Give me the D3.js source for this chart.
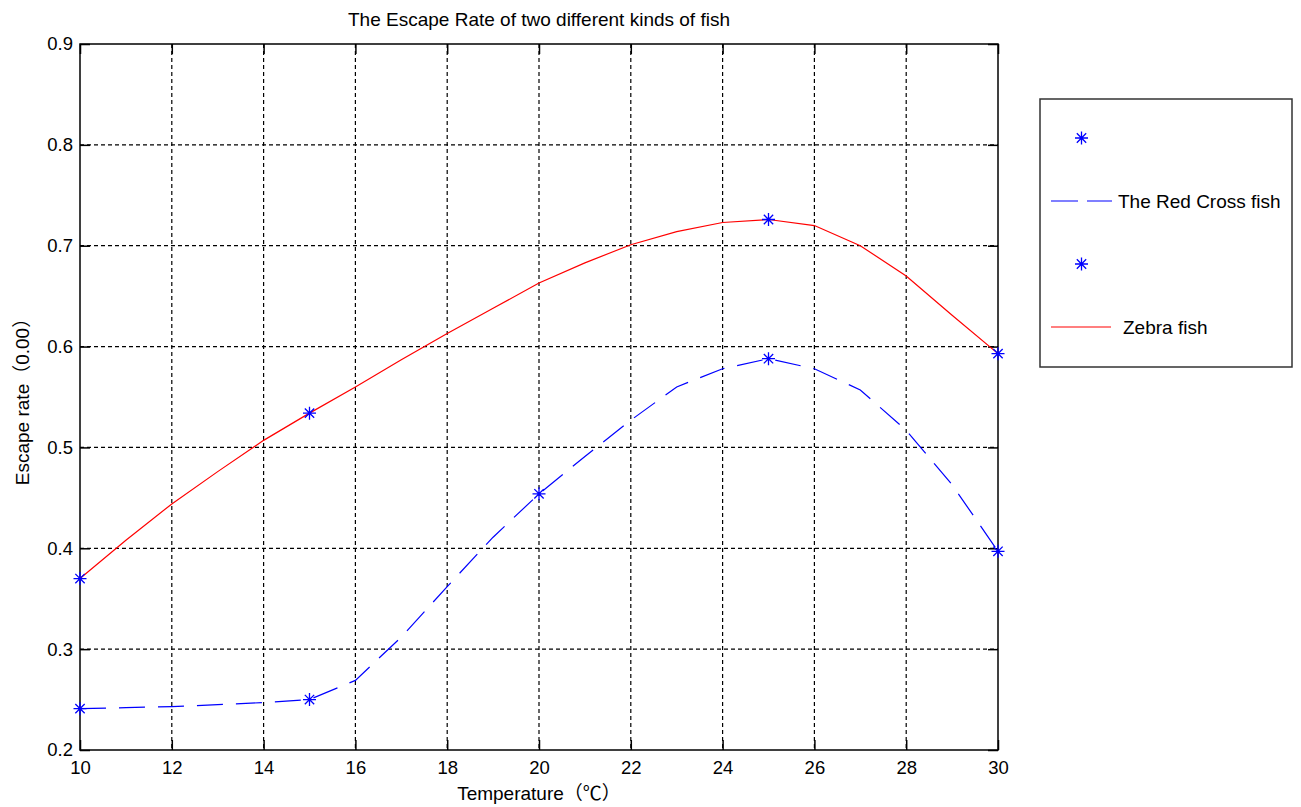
<!DOCTYPE html>
<html>
<head>
<meta charset="utf-8">
<script src="https://cdn.jsdelivr.net/npm/d3@7"></script>
<style>
  body { margin: 0; background: #fff; }
  text { font-family: "Liberation Sans", Arial, "Noto Sans CJK SC", sans-serif; fill: #000; }
</style>
</head>
<body>
<script>
// x values (temperature) where the curves were sampled
const temps = [10, 11, 12, 13, 14, 15, 16, 17, 18, 19, 20, 21, 22, 23, 24, 25, 26, 27, 28, 29, 30];
// curve values
const redCrossLine = [0.241, 0.242, 0.243, 0.245, 0.247, 0.250, 0.269, 0.312, 0.362, 0.411, 0.454,
                      0.491, 0.527, 0.560, 0.578, 0.588, 0.578, 0.557, 0.517, 0.463, 0.397];
const zebraLine = [0.370, 0.408, 0.444, 0.476, 0.507, 0.534, 0.560, 0.587, 0.613, 0.638, 0.663,
                   0.683, 0.701, 0.714, 0.723, 0.726, 0.720, 0.700, 0.670, 0.631, 0.593];
// measured points (the * markers)
const redCrossMarkT = [10, 15, 20, 25, 30];
const redCrossMarkV = [0.241, 0.250, 0.454, 0.588, 0.397];
const zebraMarkT = [10, 15, 25, 30];
const zebraMarkV = [0.370, 0.534, 0.726, 0.593];
// ticks
const xTicks = [10, 12, 14, 16, 18, 20, 22, 24, 26, 28, 30];
const yTicks = [0.2, 0.3, 0.4, 0.5, 0.6, 0.7, 0.8, 0.9];
const legendLabels = ["", "The Red Cross fish", "", "Zebra fish"];

const width = 1301;
const height = 807;
const pLeft = 80, pRight = 998, pTop = 44, pBottom = 750;

const svg = d3.select("body").append("svg").attr("width", width).attr("height", height);

const xScale = d3.scaleLinear().domain([10, 30]).range([pLeft, pRight]);
const yScale = d3.scaleLinear().domain([0.2, 0.9]).range([pBottom, pTop]);

/** grid (dotted black) */
const grid = svg.append("g").attr("stroke", "#000").attr("stroke-width", 1.2).attr("stroke-dasharray", "4,3");
grid.selectAll(".gx").data(xTicks.slice(1, -1)).enter().append("line")
  .attr("x1", d => xScale(d)).attr("x2", d => xScale(d))
  .attr("y1", pTop).attr("y2", pBottom);
grid.selectAll(".gy").data(yTicks.slice(1, -1)).enter().append("line")
  .attr("x1", pLeft).attr("x2", pRight)
  .attr("y1", d => yScale(d)).attr("y2", d => yScale(d));

/** axes, ticks pointing inward */
const fmt = d3.format(".1f");
const axisx = d3.axisBottom(xScale).tickValues(xTicks).tickSize(-10).tickPadding(11);
const axisy = d3.axisLeft(yScale).tickValues(yTicks).tickSize(-10).tickPadding(7).tickFormat(fmt);
const axisTop = d3.axisTop(xScale).tickValues(xTicks).tickSize(-10).tickFormat("");
const axisRight = d3.axisRight(yScale).tickValues(yTicks).tickSize(-10).tickFormat("");

function styleAxis(g) {
  g.select(".domain").remove();
  g.selectAll(".tick line").attr("stroke", "#000").attr("stroke-width", 1.5);
  g.selectAll(".tick text").style("font-size", "18.5px").attr("fill", "#1a1a2e");
}
svg.append("g").attr("transform", "translate(0," + pBottom + ")").call(axisx).call(styleAxis);
svg.append("g").attr("transform", "translate(" + pLeft + ",0)").call(axisy).call(styleAxis);
svg.append("g").attr("transform", "translate(0," + pTop + ")").call(axisTop).call(styleAxis);
svg.append("g").attr("transform", "translate(" + pRight + ",0)").call(axisRight).call(styleAxis);

/** frame */
svg.append("rect").attr("x", pLeft).attr("y", pTop)
  .attr("width", pRight - pLeft).attr("height", pBottom - pTop)
  .attr("fill", "none").attr("stroke", "#000").attr("stroke-width", 1.5);

/** lines */
const line = d3.line()
  .x((d, i) => xScale(temps[i]))
  .y(d => yScale(d));

svg.append("path").datum(zebraLine)
  .attr("fill", "none").attr("stroke", "#ff0000").attr("stroke-width", 1.2)
  .attr("d", line);
svg.append("path").datum(redCrossLine)
  .attr("fill", "none").attr("stroke", "#0000ff").attr("stroke-width", 1.2)
  .attr("stroke-dasharray", "26,13")
  .attr("d", line);

/** asterisk markers */
function star(r) {
  const q = r * 0.72;
  return "M" + (-r) + ",0H" + r + "M0," + (-r) + "V" + r +
    "M" + (-q) + "," + (-q) + "L" + q + "," + q + "M" + (-q) + "," + q + "L" + q + "," + (-q);
}
const marks = redCrossMarkT.map((t, i) => ({ t: t, v: redCrossMarkV[i] }))
  .concat(zebraMarkT.map((t, i) => ({ t: t, v: zebraMarkV[i] })));
svg.append("g").selectAll("path").data(marks).enter().append("path")
  .attr("transform", d => "translate(" + xScale(d.t) + "," + yScale(d.v) + ")")
  .attr("d", star(6.5))
  .attr("stroke", "#0000ff").attr("stroke-width", 1.3).attr("fill", "none");

/** title and axis labels */
svg.append("text").attr("x", (pLeft + pRight) / 2).attr("y", 26)
  .attr("text-anchor", "middle").style("font-size", "19px").attr("fill", "#1a1a2e")
  .text("The Escape Rate of two different kinds of fish");
svg.append("text").attr("x", (pLeft + pRight) / 2).attr("y", 800)
  .attr("text-anchor", "middle").style("font-size", "19px").attr("fill", "#1a1a2e")
  .text("Temperature（℃）");
svg.append("text")
  .attr("transform", "translate(29," + (pTop + pBottom) / 2 + ") rotate(-90)")
  .attr("text-anchor", "middle").style("font-size", "19px").attr("fill", "#1a1a2e")
  .text("Escape rate（0.00）");

/** legend */
const lg = svg.append("g");
lg.append("rect").attr("x", 1040).attr("y", 99).attr("width", 252).attr("height", 268)
  .attr("fill", "#fff").attr("stroke", "#333").attr("stroke-width", 1.5);
const rowY = [138, 201, 264, 327];
legendLabels.forEach((lab, i) => {
  const y = rowY[i];
  if (i === 0 || i === 2) {
    lg.append("path").attr("transform", "translate(1081.5," + y + ")")
      .attr("d", star(6.5)).attr("stroke", "#0000ff").attr("stroke-width", 1.3).attr("fill", "none");
  } else if (i === 1) {
    lg.append("line").attr("x1", 1051).attr("x2", 1112).attr("y1", y).attr("y2", y)
      .attr("stroke", "#0000ff").attr("stroke-width", 1.2).attr("stroke-dasharray", "27,9");
  } else {
    lg.append("line").attr("x1", 1051).attr("x2", 1111).attr("y1", y).attr("y2", y)
      .attr("stroke", "#ff0000").attr("stroke-width", 1.2);
  }
  if (lab) {
    lg.append("text").attr("x", i === 1 ? 1118 : 1123).attr("y", y).attr("dy", "0.35em")
      .style("font-size", "19px").attr("fill", "#1a1a2e").text(lab);
  }
});
</script>
</body>
</html>
